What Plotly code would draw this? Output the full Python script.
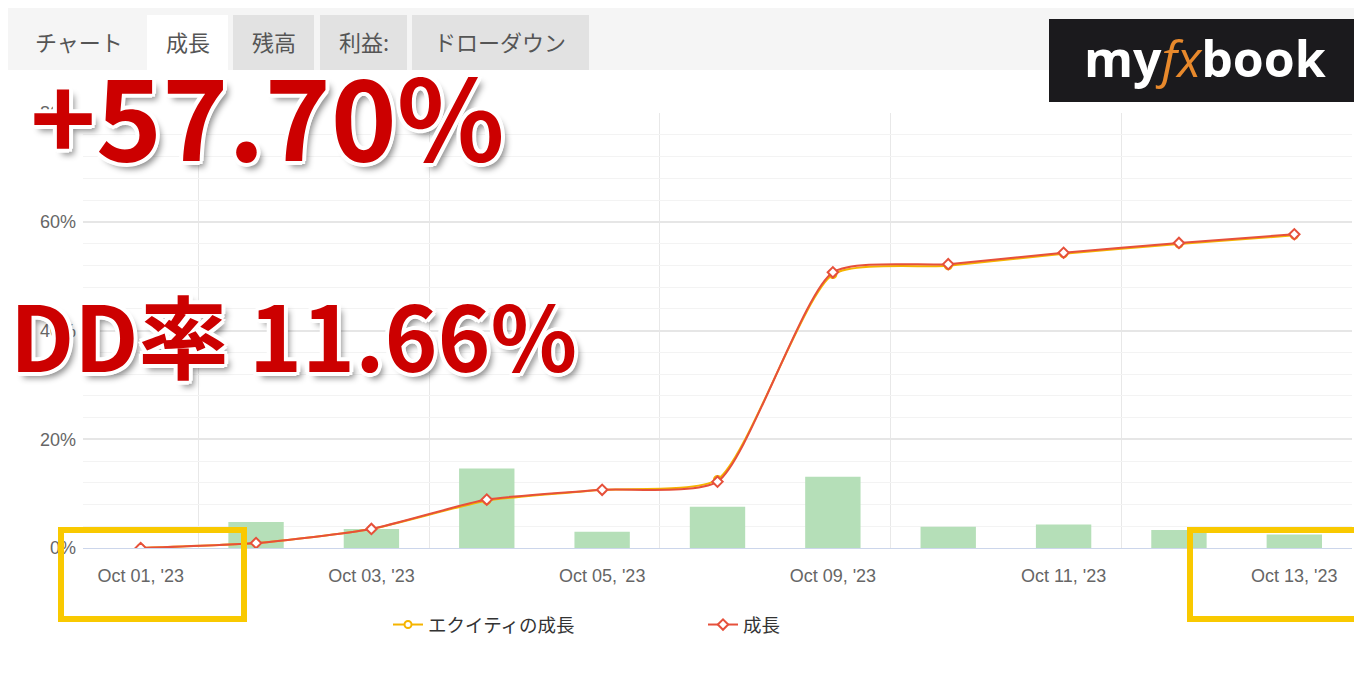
import plotly.graph_objects as go

# chart values
dates = ["Oct 01, '23", "Oct 02, '23", "Oct 03, '23", "Oct 04, '23", "Oct 05, '23", "Oct 06, '23",
         "Oct 09, '23", "Oct 10, '23", "Oct 11, '23", "Oct 12, '23", "Oct 13, '23"]
growth = [0, 0.9, 3.5, 8.9, 10.7, 12.2, 50.7, 52.2, 54.3, 56.1, 57.7]
equity_growth = [0, 0.9, 3.5, 8.7, 10.7, 12.6, 50.3, 51.9, 54.1, 55.9, 57.5]
daily_growth = [0, 4.8, 3.5, 14.6, 3.0, 7.6, 13.1, 3.9, 4.3, 3.3, 2.5]
tabs = ["チャート", "成長", "残高", "利益:", "ドローダウン"]
headline = "+57.70%"
dd_text = "DD率 11.66%"

# the page body has an 8px margin, so the figure is drawn 8px in from the window corner
OFF = 8
W, H = 1362 - OFF, 690 - OFF
ML, MR, MT, MB = 83 - OFF, 10, 113 - OFF, 142
PW, PH = W - ML - MR, H - MT - MB


# window pixel -> paper coords
def px(x):
    return (x - OFF - ML) / PW


def py(y):
    return (H - MB - (y - OFF)) / PH


idx = list(range(len(dates)))
JP = "Liberation Sans, Noto Sans CJK JP, sans-serif"

fig = go.Figure()
fig.add_trace(go.Bar(x=idx, y=daily_growth, marker=dict(color="#b5dfb8", line=dict(width=0)),
                     width=0.48, showlegend=False, hoverinfo="skip"))
fig.add_trace(go.Scatter(x=idx, y=equity_growth, name="エクイティの成長", mode="lines+markers",
                         line=dict(color="#f5b400", width=2, shape="spline", smoothing=0.6),
                         marker=dict(symbol="circle", size=7, color="white",
                                     line=dict(color="#f5b400", width=2))))
fig.add_trace(go.Scatter(x=idx, y=growth, name="成長", mode="lines+markers",
                         line=dict(color="#e6503b", width=2, shape="spline", smoothing=0.6),
                         marker=dict(symbol="diamond", size=8, color="white",
                                     line=dict(color="#e6503b", width=2))))

shapes = []
# header bar
shapes.append(dict(type="rect", xref="paper", yref="paper", x0=px(0), x1=px(1362), y0=py(70), y1=py(0),
                   fillcolor="#f5f5f5", line=dict(width=0), layer="below"))

tab_x = [(12, 145), (147, 228), (233, 314), (320, 407), (412, 589)]
tab_fill = ["#f5f5f5", "#ffffff", "#e2e2e2", "#e2e2e2", "#e2e2e2"]
annotations = []
for name, (a, b), fc in zip(tabs, tab_x, tab_fill):
    shapes.append(dict(type="rect", xref="paper", yref="paper", x0=px(a), x1=px(b),
                       y0=py(70), y1=py(15), fillcolor=fc, line=dict(width=0), layer="below"))
    annotations.append(dict(text=name, xref="paper", yref="paper", x=px((a + b) / 2), y=py(41),
                            showarrow=False, xanchor="center", yanchor="middle",
                            font=dict(family="Noto Sans CJK JP", size=22, color="#555555")))

# logo
shapes.append(dict(type="rect", xref="paper", yref="paper", x0=px(1049), x1=px(1366), y0=py(102), y1=py(19),
                   fillcolor="#1b1a1d", line=dict(width=0)))
annotations.append(dict(text="<b>my</b><span style='color:#e8892c'><i>fx</i></span><b>book</b>",
                        xref="paper", yref="paper", x=px(1205), y=py(58), showarrow=False,
                        xanchor="center", yanchor="middle",
                        font=dict(family="Open Sans", size=50, color="white")))

# yellow highlight boxes
for a, b in [(61, 244), (1190, 1375)]:
    shapes.append(dict(type="rect", xref="paper", yref="paper", x0=px(a), x1=px(b), y0=py(619), y1=py(530),
                       line=dict(color="#f9c900", width=6), fillcolor="rgba(0,0,0,0)", layer="above"))

outline = [(-3, -3), (3, -3), (-3, 3), (3, 3), (0, -4), (0, 4), (-4, 0), (4, 0)]
big_shadow = ", ".join(f"{dx}px {dy}px 0 #ffffff" for dx, dy in outline) + ", 5px 6px 6px rgba(0,0,0,0.45)"
annotations.append(dict(text=headline, xref="paper", yref="paper", x=px(28), y=py(112), showarrow=False,
                        xanchor="left", yanchor="middle",
                        font=dict(family="Noto Sans CJK JP", size=112, color="#cc0000", weight="bold",
                                  shadow=big_shadow)))
annotations.append(dict(text=dd_text, xref="paper", yref="paper", x=px(8), y=py(333), showarrow=False,
                        xanchor="left", yanchor="middle",
                        font=dict(family="Noto Sans CJK JP", size=90, color="#cc0000", weight="bold",
                                  shadow=big_shadow)))

fig.update_layout(
    width=W, height=H,
    margin=dict(l=ML, r=MR, t=MT, b=MB),
    paper_bgcolor="white", plot_bgcolor="white",
    shapes=shapes, annotations=annotations,
    legend=dict(orientation="h", x=px(388), xanchor="left", y=py(625), yanchor="middle",
                font=dict(family=JP, size=18.5, color="#333333"), entrywidth=270, itemwidth=30),
    xaxis=dict(range=[-0.5, 10.5], tickvals=idx[::2], ticktext=dates[::2], showgrid=False,
               zeroline=False, showline=True, linecolor="#ccd6eb", linewidth=1, ticks="",
               ticklabelstandoff=11,
               tickfont=dict(family="Liberation Sans", size=18, color="#666666"),
               minor=dict(tick0=0.5, dtick=2, showgrid=True, gridcolor="#e8e8e8", gridwidth=1)),
    yaxis=dict(range=[0, 80], dtick=20, ticksuffix="%", showgrid=True, gridcolor="#e6e6e6", gridwidth=1.5,
               zeroline=False, ticks="", ticklabelstandoff=6,
               tickfont=dict(family="Liberation Sans", size=18, color="#666666"),
               minor=dict(dtick=4, showgrid=True, gridcolor="#f3f3f3", gridwidth=1)),
)

fig.write_html("out.html")
